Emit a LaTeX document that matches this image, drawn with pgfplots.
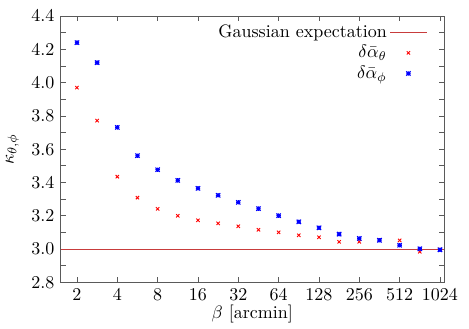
\documentclass[border=0pt]{standalone}
\usepackage{pgfplots}
\pgfplotsset{compat=1.18}
\definecolor{expcol}{RGB}{200,60,60}
\definecolor{axgray}{RGB}{90,90,90}
\pgfdeclareplotmark{gpstar}{%
  \pgfpathmoveto{\pgfqpoint{-\pgfplotmarksize}{0pt}}\pgfpathlineto{\pgfqpoint{\pgfplotmarksize}{0pt}}%
  \pgfpathmoveto{\pgfqpoint{0pt}{-\pgfplotmarksize}}\pgfpathlineto{\pgfqpoint{0pt}{\pgfplotmarksize}}%
  \pgfpathmoveto{\pgfqpoint{-\pgfplotmarksize}{-\pgfplotmarksize}}\pgfpathlineto{\pgfqpoint{\pgfplotmarksize}{\pgfplotmarksize}}%
  \pgfpathmoveto{\pgfqpoint{-\pgfplotmarksize}{\pgfplotmarksize}}\pgfpathlineto{\pgfqpoint{\pgfplotmarksize}{-\pgfplotmarksize}}%
  \pgfusepathqstroke}
\begin{document}
\begin{tikzpicture}
\begin{axis}[
  scale only axis, width=213pt, height=148pt,
  xmode=log, log basis x=2,
  xmin=1.51, xmax=1097, ymin=2.8, ymax=4.4,
  xtick={2,4,8,16,32,64,128,256,512,1024},
  xticklabels={2,4,8,16,32,64,128,256,512,1024},
  minor x tick num=0,
  ytick={2.8,3.0,3.2,3.4,3.6,3.8,4.0,4.2,4.4},
  minor y tick num=1,
  yticklabel style={/pgf/number format/fixed,/pgf/number format/fixed zerofill,/pgf/number format/precision=1},
  tick align=inside, major tick length=3pt, minor tick length=3pt,
  every tick/.style={axgray},
  axis line style={axgray},
  xlabel={$\beta$ [arcmin]}, ylabel={$\kappa_{\theta,\phi}$},
  xlabel style={yshift=5pt},
  legend style={draw=none, fill=none, at={(1,1)}, anchor=north east,
    xshift=-6pt, yshift=-1pt, row sep=0pt, nodes={inner sep=1.5pt}},
  legend cell align=right,
  legend plot pos=right,
  legend image code/.code={\draw[mark repeat=2,mark phase=2,#1]
    plot coordinates {(0cm,0cm) (0.36cm,0cm) (0.72cm,0cm)};},
]
\addplot[draw=expcol, semithick, mark=none] coordinates {(1.51,3.0) (1097,3.0)};
\addlegendentry{Gaussian expectation}
\addplot[only marks, color=red, mark=x, mark size=1.3pt, mark options={line width=0.5pt}] coordinates {
(2,3.970) (2.828,3.772) (4,3.435) (5.657,3.309) (8,3.242) (11.31,3.200)
(16,3.173) (22.63,3.155) (32,3.137) (45.25,3.116) (64,3.101) (90.51,3.083)
(128,3.071) (181.0,3.044) (256,3.044) (362.0,3.055) (512,3.052) (724.1,2.984)
(1024,2.998)};
\addlegendentry{$\delta\bar{\alpha}_{\theta}$}
\addplot[only marks, color=blue, mark=gpstar, mark size=1.2pt, mark options={line width=0.6pt}] coordinates {
(2,4.240) (2.828,4.120) (4,3.731) (5.657,3.561) (8,3.477) (11.31,3.413)
(16,3.365) (22.63,3.323) (32,3.281) (45.25,3.243) (64,3.201) (90.51,3.164)
(128,3.128) (181.0,3.090) (256,3.064) (362.0,3.053) (512,3.023) (724.1,3.002)
(1024,2.996)};
\addlegendentry{$\delta\bar{\alpha}_{\phi}$}
\end{axis}
\path ([shift={(-33.3pt,-24.4pt)}]current axis.south west)
  rectangle ([shift={(13.9pt,8.9pt)}]current axis.north east);
\end{tikzpicture}
\end{document}
